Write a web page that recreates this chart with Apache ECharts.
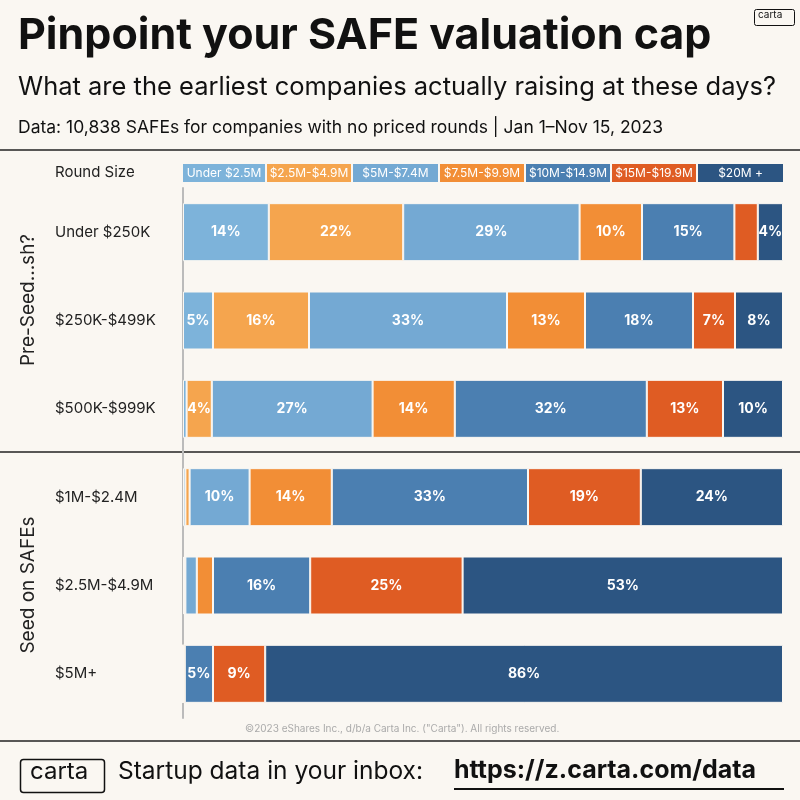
<!DOCTYPE html>
<html><head><meta charset="utf-8">
<script src="https://cdn.jsdelivr.net/npm/echarts@6/dist/echarts.min.js"></script>
<style>html,body{margin:0;padding:0;background:#faf7f2}#c{width:800px;height:800px}</style>
</head><body><div id="c"></div>
<script>
const categories = ['Under $250K','$250K-$499K','$500K-$999K','$1M-$2.4M','$2.5M-$4.9M','$5M+'];
const seriesNames = ['Under $2.5M','$2.5M-$4.9M','$5M-$7.4M','$7.5M-$9.9M','$10M-$14.9M','$15M-$19.9M','$20M +'];
const colors = ['#7db3da','#f5a54e','#74a9d3','#f28e36','#4b7fb1','#df5c23','#2c5582'];
// values per series, in category order
const vUnder25 = [14.3, 5, 0.6, 0.4, 0.2, 0];
const v25_49   = [22.4, 16, 4.2, 0.7, 0.2, 0];
const v5_74    = [29.4, 33, 26.8, 10, 1.9, 0];
const v75_99   = [10.4, 13, 13.7, 13.7, 2.7, 0.3];
const v10_149  = [15.4, 18, 32, 32.7, 16.2, 4.7];
const v15_199  = [3.9, 7, 12.7, 18.8, 25.4, 8.7];
const v20plus  = [4.2, 8, 10, 23.7, 53.4, 86.3];
const allValues = [vUnder25, v25_49, v5_74, v75_99, v10_149, v15_199, v20plus];
const minLabel = 4;

const chart = echarts.init(document.getElementById('c'));
const FONT = 'Inter, "Noto Sans", sans-serif';
const series = seriesNames.map((n,i)=>({
  name:n, type:'bar', stack:'s', barWidth:58,
  data: allValues[i],
  itemStyle:{color:colors[i], borderColor:'#faf7f2', borderWidth:1},
  label:{show:true, position:'inside', color:'#fff', fontFamily:FONT, fontWeight:'bold', fontSize:14,
    formatter:p=> p.value>=minLabel ? Math.round(p.value)+'%' : ''}
}));
const legendX = [183,267,353,440,526,612,698], legendW=[82,84,85,84,84,84,85];
const legendGraphics = seriesNames.map((n,i)=>({
  type:'group', left:legendX[i], top:164, children:[
    {type:'rect', shape:{x:0,y:0,width:legendW[i],height:18}, style:{fill:colors[i]}},
    {type:'text', x:legendW[i]/2, y:9, style:{text:n, fill:'#fff', font:'12px '+FONT, align:'center', verticalAlign:'middle'}}
  ]}));
chart.setOption({
  backgroundColor:'#faf7f2',
  animation:false,
  grid:{left:183, right:17, top:188, bottom:82},
  xAxis:{type:'value', min:0, max:100, show:false},
  yAxis:{type:'category', data:categories, inverse:true,
    axisLine:{show:true, lineStyle:{color:'#bbb', width:2}}, axisTick:{show:false},
    axisLabel:{color:'#222', fontSize:15, fontFamily:FONT, align:'left', margin:128}},
  series:series,
  graphic:[
    {type:'text', left:18, top:15, style:{text:'Pinpoint your SAFE valuation cap', font:'bold 43px '+FONT, fill:'#111'}},
    {type:'text', left:18, top:74, style:{text:'What are the earliest companies actually raising at these days?', font:'25.5px '+FONT, fill:'#111'}},
    {type:'text', left:18, top:119, style:{text:'Data: 10,838 SAFEs for companies with no priced rounds | Jan 1–Nov 15, 2023', font:'17.5px '+FONT, fill:'#111'}},
    {type:'rect', left:752, top:7, shape:{width:40,height:16,r:2}, style:{fill:'none', stroke:'#111', lineWidth:1}},
    {type:'text', left:758, top:10, style:{text:'carta', font:'10px '+FONT, fill:'#111'}},
    {type:'line', shape:{x1:0,y1:150,x2:800,y2:150}, style:{stroke:'#222', lineWidth:1.5}},
    {type:'line', shape:{x1:0,y1:452,x2:800,y2:452}, style:{stroke:'#222', lineWidth:1.5}},
    {type:'line', shape:{x1:0,y1:741,x2:800,y2:741}, style:{stroke:'#222', lineWidth:1.5}},
    {type:'text', left:55, top:165, style:{text:'Round Size', font:'15px '+FONT, fill:'#222'}},
    {type:'text', x:28, y:300, rotation:Math.PI/2, style:{text:'Pre-Seed...sh?', font:'19px '+FONT, fill:'#222', align:'center', verticalAlign:'middle'}},
    {type:'text', x:28, y:585, rotation:Math.PI/2, style:{text:'Seed on SAFEs', font:'19px '+FONT, fill:'#222', align:'center', verticalAlign:'middle'}},
    {type:'text', left:245, top:724, style:{text:'©2023 eShares Inc., d/b/a Carta Inc. ("Carta"). All rights reserved.', font:'10px '+FONT, fill:'#aaa'}},
    {type:'rect', left:18, top:757, shape:{width:84,height:33,r:3}, style:{fill:'none', stroke:'#111', lineWidth:1.5}},
    {type:'text', left:30, top:760, style:{text:'carta', font:'24px '+FONT, fill:'#111'}},
    {type:'text', left:118, top:759, style:{text:'Startup data in your inbox:', font:'24.5px '+FONT, fill:'#111'}},
    {type:'text', left:454, top:758, style:{text:'https://z.carta.com/data', font:'bold 25px '+FONT, fill:'#111'}},
    {type:'line', shape:{x1:454,y1:789,x2:784,y2:789}, style:{stroke:'#111', lineWidth:2}},
    ...legendGraphics
  ]
});
</script></body></html>
